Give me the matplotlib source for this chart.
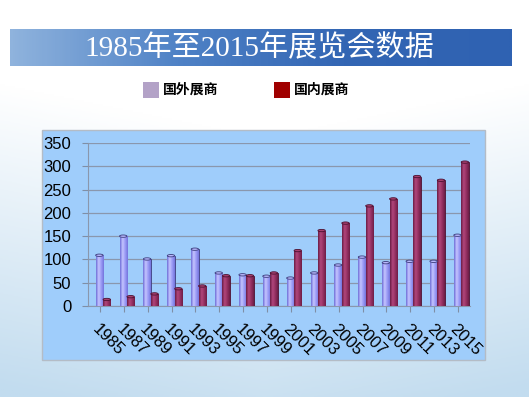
import numpy as np
import matplotlib.pyplot as plt
from matplotlib.patches import Rectangle, Ellipse
from matplotlib.colors import LinearSegmentedColormap

plt.rcParams['font.family'] = ['Liberation Sans', 'Noto Sans CJK SC']

years = ['1985', '1987', '1989', '1991', '1993', '1995', '1997', '1999',
         '2001', '2003', '2005', '2007', '2009', '2011', '2013', '2015']
foreign = [109, 150, 101, 108, 122, 71, 67, 64, 60, 71, 88, 105, 93, 96, 96, 152]
domestic = [14, 20, 26, 37, 43, 65, 65, 71, 119, 162, 178, 215, 230, 278, 270, 309]
series_names = ['国外展商', '国内展商']

W, H = 529, 397
fig = plt.figure(figsize=(W / 100, H / 100), dpi=100)

# slide background: white fading into pale blue towards the bottom / sides
bg = fig.add_axes([0, 0, 1, 1], zorder=-10)
yy, xx = np.mgrid[0:1:200j, 0:1:260j]
t = np.clip(yy * 1.3 - 0.45 + 0.35 * np.abs(xx - 0.5), 0, 1)
bg_cmap = LinearSegmentedColormap.from_list('bg', ['#ffffff', '#c2dcef'])
bg.imshow(t, cmap=bg_cmap, extent=[0, 1, 0, 1], aspect='auto', origin='upper')
bg.set_axis_off()


def fx(px):
    return px / W


def fy(py):
    return 1 - py / H


# title banner
ban = fig.add_axes([fx(10), fy(66), fx(512) - fx(10), fy(29) - fy(66)], zorder=-5)
gx = np.linspace(0, 1, 300)
band = np.tile(gx, (20, 1))
ban_cmap = LinearSegmentedColormap.from_list('ban', ['#8fb3dd', '#4f82c6', '#3366b4', '#2f62b2'])
ban.imshow(band, cmap=ban_cmap, extent=[0, 1, 0, 1], aspect='auto')
ban.set_axis_off()
fig.text(fx(259), fy(48), '1985年至2015年展览会数据', color='white', fontsize=21,
         ha='center', va='center', family=['Liberation Serif', 'Noto Sans CJK SC'])

# legend
leg_colors = ['#b3a2c7', '#a00000']
for x0, name, c in zip([143, 274], series_names, leg_colors):
    fig.patches.append(Rectangle((fx(x0), fy(98)), fx(16), fy(82) - fy(98),
                                 transform=fig.transFigure, facecolor=c, edgecolor='none'))
    fig.text(fx(x0 + 20), fy(90), name, fontsize=10, va='center', ha='left',
             family=['Noto Sans CJK SC'], weight='bold')

# chart frame
fig.patches.append(Rectangle((fx(42), fy(360)), fx(485) - fx(42), fy(130) - fy(360),
                             transform=fig.transFigure, facecolor='#9fcdfb',
                             edgecolor='#b4bcc6', linewidth=1, zorder=-4))

ax = fig.add_axes([fx(88), fy(306), fx(470) - fx(88), fy(143) - fy(306)])
ax.set_facecolor('none')
x = np.arange(len(years))
w = 0.31
off = 0.13
b1 = ax.bar(x - w / 2 + off, foreign, w, color='#9999ff', edgecolor='#3a3a7a', linewidth=0.6, zorder=3)
b2 = ax.bar(x + w / 2 + off, domestic, w, color='#993366', edgecolor='#4a1030', linewidth=0.6, zorder=3)

# cylinder shading
shade = {
    'f': LinearSegmentedColormap.from_list('f', ['#6f6fd8', '#c4c4ff', '#9a9af5', '#7474dc']),
    'd': LinearSegmentedColormap.from_list('d', ['#6a1c44', '#b2477c', '#943062', '#6e1e46']),
}
grad = np.tile(np.linspace(0, 1, 50), (2, 1))
for bars, key, top_c, edge_c in [(b1, 'f', '#b9b9ff', '#3a3a7a'), (b2, 'd', '#a8406f', '#4a1030')]:
    for r in bars:
        x0, h = r.get_x(), r.get_height()
        im = ax.imshow(grad, cmap=shade[key], extent=[x0, x0 + w, 0, h],
                       aspect='auto', zorder=3.5)
        im.set_clip_path(r)
        ax.add_patch(Ellipse((x0 + w / 2, h), w, 5, facecolor=top_c, edgecolor=edge_c,
                             linewidth=0.6, zorder=4))

ax.set_xlim(-0.5, len(years) - 0.5)
ax.set_ylim(0, 350)
ax.set_yticks(range(0, 351, 50))
ax.set_xticks(x)
ax.set_xticklabels(years, rotation=-45, ha='left', va='top', rotation_mode='anchor')
ax.tick_params(axis='y', length=4, color='#7f8fa6', labelsize=12, pad=8)
ax.tick_params(axis='x', length=4, color='#7f8fa6', labelsize=12, pad=7)
ax.yaxis.grid(True, color='#8a97ad', linewidth=0.9, zorder=0)
ax.set_axisbelow(True)
for s in ['top', 'right']:
    ax.spines[s].set_visible(False)
ax.spines['left'].set_color('#8a97ad')
ax.spines['bottom'].set_color('#8a97ad')

fig.savefig('out.png', dpi=100)
